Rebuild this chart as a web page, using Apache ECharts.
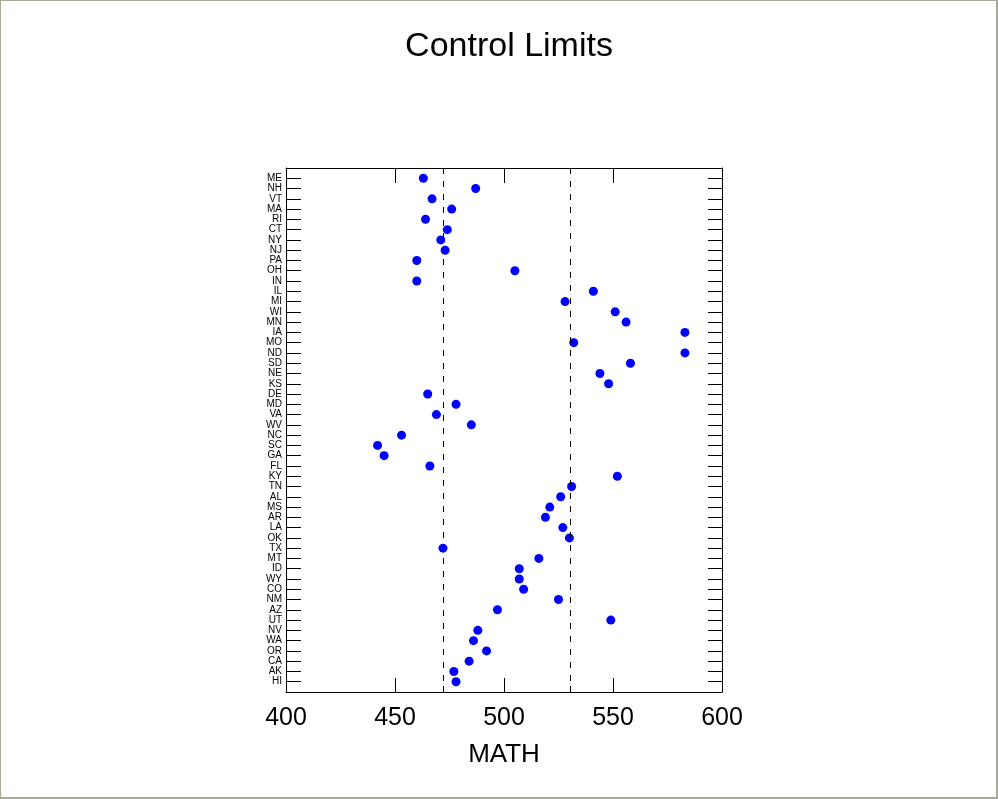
<!DOCTYPE html>
<html>
<head>
<meta charset="utf-8">
<script src="https://cdn.jsdelivr.net/npm/echarts@6/dist/echarts.min.js"></script>
<style>
  html, body { margin: 0; padding: 0; background: #fff; }
  #chart { width: 998px; height: 799px; box-sizing: border-box;
    border-top: 1px solid #aca899; border-left: 1px solid #aca899;
    border-right: 2px solid #aca899; border-bottom: 2px solid #aca899; }
</style>
</head>
<body>
<div id="chart"></div>
<script>
const states = ['ME','NH','VT','MA','RI','CT','NY','NJ','PA','OH','IN','IL','MI','WI','MN','IA','MO','ND','SD','NE','KS','DE','MD','VA','WV','NC','SC','GA','FL','KY','TN','AL','MS','AR','LA','OK','TX','MT','ID','WY','CO','NM','AZ','UT','NV','WA','OR','CA','AK','HI'];
const math = [463,487,467,476,464,474,471,473,460,505,460,541,528,551,556,583,532,583,558,544,548,465,478,469,485,453,442,445,466,552,531,526,521,519,527,530,472,516,507,507,509,525,497,549,488,486,492,484,477,478];
const controlLimits = [472.2, 530.4];
const xTicks = [400, 450, 500, 550, 600];
const xMin = 400, xMax = 600, xStep = 50;
const title = 'Control Limits';
const xName = 'MATH';

const cats = [''].concat(states, ['']);
const points = states.map((s, i) => [math[i], s]);

const chart = echarts.init(document.getElementById('chart'), null, { renderer: 'canvas' });
const font = 'Liberation Sans, Arial, sans-serif';
const commonX = { type: 'value', min: xMin, max: xMax, interval: xStep, splitLine: { show: false } };
chart.setOption({
  animation: false,
  backgroundColor: '#fff',
  title: { text: title, left: 503, textAlign: 'center', top: 24,
    textStyle: { fontFamily: font, fontSize: 34, fontWeight: 'normal', color: '#000' } },
  grid: { left: 285, right: 274, top: 167, bottom: 105, containLabel: false },
  xAxis: [
    Object.assign({}, commonX, {
      position: 'bottom',
      name: xName, nameLocation: 'middle', nameGap: 50,
      nameTextStyle: { fontFamily: font, fontSize: 26, color: '#000' },
      axisLine: { show: true, lineStyle: { color: '#000', width: 1 } },
      axisTick: { show: true, inside: true, length: 14, lineStyle: { color: '#000' } },
      axisLabel: { fontFamily: font, fontSize: 25, color: '#000', margin: 14,
        formatter: v => xTicks.indexOf(v) >= 0 ? String(v) : '' }
    }),
    Object.assign({}, commonX, {
      position: 'top',
      axisLine: { show: true, lineStyle: { color: '#000', width: 1 } },
      axisTick: { show: true, inside: true, length: 15, lineStyle: { color: '#000' } },
      axisLabel: { show: false }
    }),
    Object.assign({}, commonX, {
      position: 'bottom',
      axisLine: { show: false },
      axisTick: { show: true, inside: true, length: 6, customValues: controlLimits, lineStyle: { color: '#000' } },
      axisLabel: { show: false }
    })
  ],
  yAxis: [
    { type: 'category', data: cats, inverse: true, boundaryGap: false, position: 'left',
      axisLine: { show: true, lineStyle: { color: '#000', width: 1 } },
      axisTick: { show: true, inside: true, length: 15, interval: 0, lineStyle: { color: '#000' } },
      axisLabel: { interval: 0, fontFamily: font, fontSize: 10, color: '#000', margin: 4 },
      splitLine: { show: false } },
    { type: 'category', data: cats, inverse: true, boundaryGap: false, position: 'right',
      axisLine: { show: true, lineStyle: { color: '#000', width: 1 } },
      axisTick: { show: true, inside: true, length: 14, interval: 0, lineStyle: { color: '#000' } },
      axisLabel: { show: false },
      splitLine: { show: false } }
  ],
  series: [
    { type: 'scatter', xAxisIndex: 0, yAxisIndex: 0, data: points,
      symbol: 'circle', symbolSize: 9,
      itemStyle: { color: '#0000ff', opacity: 1 },
      markLine: { silent: true, symbol: 'none', label: { show: false },
        lineStyle: { color: '#000', type: [6, 7], width: 1 },
        data: controlLimits.map(v => ({ xAxis: v })) } }
  ]
});
</script>
</body>
</html>
